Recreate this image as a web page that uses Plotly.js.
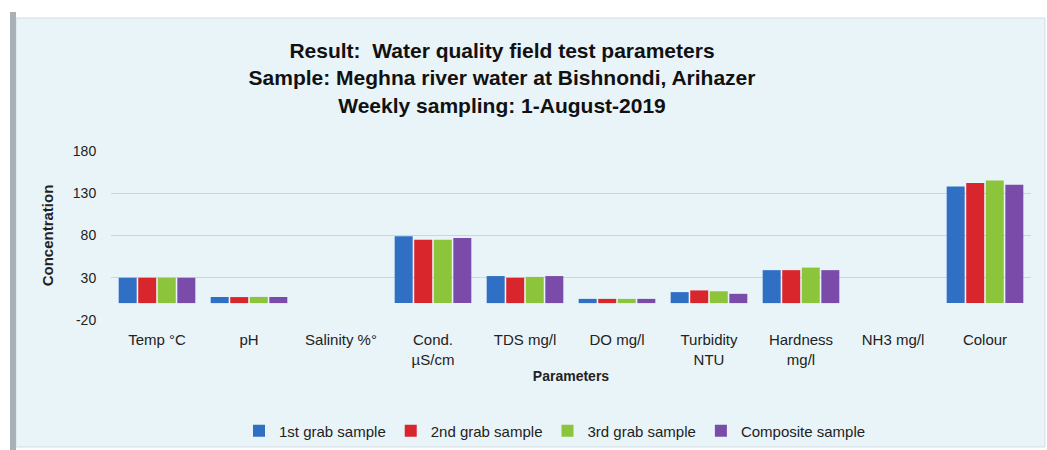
<!DOCTYPE html>
<html>
<head>
<meta charset="utf-8">
<script src="https://cdn.plot.ly/plotly-3.0.1.min.js"></script>
<style>
html,body{margin:0;padding:0;background:#fff;}
#chart{width:1047px;height:450px;}
</style>
</head>
<body>
<div id="chart"></div>
<script>
var categories = ["Temp \u00b0C", "pH", "Salinity %\u00b0", "Cond.<br>\u00b5S/cm", "TDS mg/l", "DO mg/l", "Turbidity<br>NTU", "Hardness<br>mg/l", "NH3 mg/l", "Colour"];
var seriesNames = ["1st grab sample", "2nd grab sample", "3rd grab sample", "Composite sample"];
var grab1 = [30, 7.2, 0, 79, 32, 5, 13, 39, 0, 138];
var grab2 = [30, 7.1, 0, 75, 30, 5, 15, 39, 0, 142];
var grab3 = [30, 7.3, 0, 75, 31, 5, 14, 42, 0, 145];
var composite = [30, 7.2, 0, 77, 32, 5, 11, 39, 0, 140];
var yTicks = [-20, 30, 80, 130, 180];
var colors = ["#2f6fc4", "#d8262c", "#8cc43c", "#7a4ba8"];

var W = 1047, H = 450;
var mL = 111, mR = 16, mT = 151, mB = 130;
var pw = W - mL - mR, ph = H - mT - mB;
function px(x){ return (x - mL) / pw; }
function py(y){ return (H - mB - y) / ph; }

var font = "Liberation Sans, Arial, sans-serif";
var values = [grab1, grab2, grab3, composite];
var traces = values.map(function(v, i){
  return {
    type: "bar",
    name: seriesNames[i],
    x: categories,
    y: v,
    marker: {color: colors[i], line: {width: 0}}
  };
});

var layout = {
  width: W, height: H,
  margin: {l: mL, r: mR, t: mT, b: mB, autoexpand: false},
  paper_bgcolor: "#ffffff",
  plot_bgcolor: "rgba(0,0,0,0)",
  barmode: "group",
  bargap: 0.15,
  bargroupgap: 0.08,
  showlegend: true,
  legend: {
    orientation: "h", x: px(555), xanchor: "center", y: py(431), yanchor: "middle",
    font: {family: font, size: 15, color: "#222"},
    bgcolor: "rgba(0,0,0,0)", itemwidth: 30, traceorder: "normal"
  },
  title: {
    text: "<b>Result:  Water quality field test parameters<br>Sample: Meghna river water at Bishnondi, Arihazer<br>Weekly sampling: 1-August-2019</b>",
    xref: "container", yref: "container",
    x: 502 / W, xanchor: "center", y: 1 - 58 / H, yanchor: "top",
    font: {family: font, size: 21, color: "#111"}
  },
  xaxis: {
    type: "category",
    automargin: false,
    tickfont: {family: font, size: 15, color: "#222"},
    showline: false, showgrid: false, ticks: "outside", ticklen: 6, tickcolor: "rgba(0,0,0,0)",
    title: {text: "<b>Parameters</b>", font: {family: font, size: 14, color: "#222"}, standoff: 4}
  },
  yaxis: {
    range: [-20, 180],
    automargin: false,
    tickvals: yTicks,
    ticktext: yTicks.map(String),
    tickfont: {family: font, size: 14, color: "#222"},
    showgrid: true, gridcolor: "rgba(140,150,160,0.32)", gridwidth: 1,
    zeroline: false, showline: false, ticks: "outside", ticklen: 11, tickcolor: "rgba(0,0,0,0)",
    title: {text: "<b>Concentration</b>", font: {family: font, size: 15, color: "#222"}, standoff: 15}
  },
  shapes: [
    {type: "rect", xref: "paper", yref: "paper", layer: "below",
     x0: px(16), x1: px(1045), y0: py(447), y1: py(18),
     fillcolor: "#e9f4f9", line: {color: "#d6dde2", width: 1}},
    {type: "rect", xref: "paper", yref: "paper", layer: "below",
     x0: px(10), x1: px(16), y0: py(450), y1: py(12),
     fillcolor: "#a9b0b6", line: {width: 0}}
  ]
};

Plotly.newPlot("chart", traces, layout, {displayModeBar: false, staticPlot: true});
</script>
</body>
</html>
